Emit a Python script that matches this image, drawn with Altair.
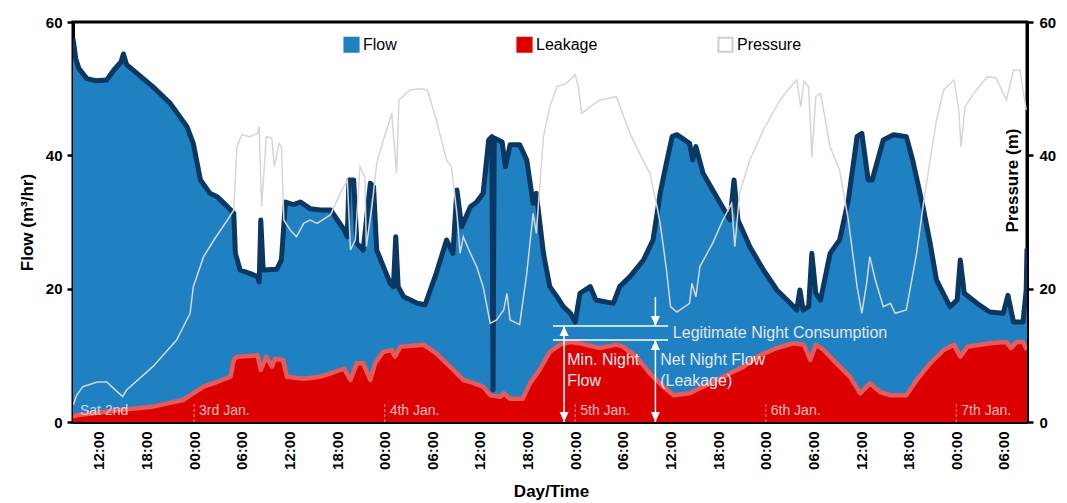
import altair as alt
import pandas as pd

# ---------------- data (hours since 2 Jan 00:00) ----------------
flow_h = [8.75, 9.1, 9.5, 10.5, 11.6, 13.0, 13.9, 14.8, 15.1, 15.5, 18.8, 21.0, 23.1, 23.9, 24.8, 26.0, 26.9,
          28.2, 29.0, 29.2, 29.8, 31.0, 32.0, 32.2, 32.4, 32.7, 34.4, 35.0, 35.5, 36.5, 37.4, 38.6, 39.9,
          41.2, 42.9, 43.3, 43.5, 44.1, 44.5, 45.3, 46.2, 46.6, 47.0, 48.7, 49.1, 49.4, 49.7, 50.4, 52.1,
          53.1, 54.5, 55.8, 56.6, 57.1, 57.7, 58.8, 59.6, 60.4, 61.1, 61.5, 61.65, 61.8, 62.8, 63.2, 63.8,
          65.0, 65.9, 66.7, 67.1, 68.0, 68.8, 69.7, 70.5, 71.4, 72.0, 72.6, 73.9, 74.6, 76.8, 77.6, 78.9,
          80.6, 81.8, 82.7, 83.3, 84.2, 84.8, 86.4, 86.8, 87.2, 88.1, 89.8, 91.5, 92.0, 92.5, 94.0, 95.7,
          97.4, 99.1, 99.9, 100.3, 100.7, 101.4, 101.8, 102.3, 102.9, 104.1, 105.3, 106.4, 107.5, 108.1,
          108.9, 109.4, 110.8, 112.1, 113.7, 114.5, 115.8, 116.7, 117.5, 119.2, 120.1, 120.5, 121.0, 122.6,
          124.2, 125.9, 126.5, 127.2, 128.4, 128.8, 128.9]
flow_v = [57.5, 54.5, 53.0, 51.5, 51.2, 51.3, 52.8, 54.0, 55.2, 53.6, 50.3, 47.8, 44.3, 41.8, 36.3, 34.3, 33.8,
          32.3, 31.3, 25.3, 22.8, 22.3, 21.8, 21.0, 30.3, 22.8, 22.9, 24.3, 33.0, 32.6, 33.0, 32.0, 31.8,
          31.8, 28.8, 27.8, 36.3, 36.3, 26.8, 25.8, 35.8, 35.3, 25.8, 20.8, 20.3, 27.8, 20.3, 18.8, 17.8,
          17.6, 22.3, 27.3, 25.3, 34.8, 29.3, 32.3, 33.0, 34.3, 42.3, 42.8, 4.8, 42.6, 42.0, 38.3, 41.6,
          41.6, 39.3, 32.8, 34.3, 25.3, 20.3, 18.8, 17.3, 16.3, 15.0, 19.3, 20.3, 18.3, 17.8, 20.3, 21.8,
          24.3, 27.3, 34.3, 37.8, 42.8, 43.1, 41.8, 39.3, 41.3, 37.3, 33.8, 30.3, 36.3, 30.3, 26.3, 22.8,
          19.8, 17.8, 16.8, 19.8, 16.8, 17.3, 25.3, 19.3, 18.3, 25.3, 27.3, 33.3, 42.8, 43.3,
          36.3, 36.3, 42.3, 43.1, 42.8, 39.3, 32.3, 26.8, 21.3, 17.3, 18.3, 24.3, 19.3, 17.8,
          16.5, 16.3, 19.0, 15.0, 15.0, 19.8, 26.0]

leak_h = [8.75, 9.2, 14.6, 18.8, 22.6, 23.9, 25.2, 26.9, 28.6, 29.0, 29.4, 32.0, 32.4, 33.1, 33.8, 34.2, 35.2,
          35.7, 37.8, 39.9, 41.2, 42.9, 43.7, 44.5, 45.3, 46.2, 46.8, 47.8, 48.9, 49.3, 50.0, 52.9, 54.5,
          55.8, 57.1, 57.9, 58.8, 60.4, 61.3, 62.6, 63.0, 63.8, 65.4, 66.3, 67.5, 68.8, 70.1, 71.4, 72.6,
          75.1, 77.2, 78.0, 79.7, 81.4, 83.1, 84.4, 86.4, 89.0, 91.5, 93.2, 94.9, 97.4, 99.5, 100.8, 101.6,
          102.3, 103.3, 104.9, 106.6, 107.9, 109.1, 110.4, 111.7, 113.7, 115.0, 116.7, 118.4, 119.7, 120.5,
          121.4, 124.2, 126.3, 126.9, 127.6, 128.4, 128.9]
leak_v = [0.8, 1.0, 1.8, 2.3, 3.3, 4.3, 5.3, 6.0, 6.8, 9.3, 9.8, 10.0, 7.8, 9.8, 8.3, 9.5, 9.3,
          6.8, 6.5, 6.8, 7.3, 8.0, 6.3, 8.8, 8.8, 6.3, 8.8, 10.5, 10.8, 9.8, 11.3, 11.6, 10.3,
          8.8, 7.3, 6.3, 6.0, 5.3, 4.0, 3.8, 4.3, 3.5, 3.5, 5.8, 7.8, 10.5, 11.6, 12.0, 11.8,
          11.1, 11.6, 11.3, 9.8, 7.3, 5.3, 4.0, 4.3, 5.8, 7.3, 8.3, 9.8, 11.1, 11.8, 11.6, 9.3,
          11.6, 10.8, 8.8, 6.8, 4.3, 5.8, 4.5, 4.0, 4.0, 6.3, 8.8, 10.8, 11.6, 9.8,
          11.3, 11.8, 12.0, 11.1, 12.0, 12.0, 10.8]

pres_h = [8.8, 9.2, 10.0, 11.8, 13.0, 13.9, 15.0, 15.5, 18.8, 21.8, 23.5, 23.9, 25.2, 26.5, 28.2, 29.0, 29.4,
          30.0, 31.0, 32.0, 32.2, 32.5, 33.1, 33.8, 34.1, 34.7, 35.0, 35.3, 36.1, 36.9, 37.8, 38.6, 39.5,
          41.2, 42.4, 43.3, 43.7, 44.3, 44.9, 45.5, 45.7, 46.4, 47.0, 47.6, 48.9, 49.5, 49.8, 51.2, 52.5,
          53.4, 54.5, 55.8, 56.4, 57.1, 57.5, 57.9, 58.8, 59.6, 60.4, 61.3, 62.1, 63.0, 63.4, 63.8, 65.0,
          65.9, 66.7, 67.1, 68.0, 68.8, 69.7, 70.9, 72.0, 72.4, 72.8, 73.9, 75.1, 77.2, 77.8, 78.9, 80.1,
          81.4, 82.3, 82.7, 83.1, 83.5, 84.0, 84.8, 86.4, 86.7, 87.2, 87.7, 89.3, 90.6, 91.7, 92.1, 92.7,
          94.0, 95.7, 97.8, 99.5, 99.9, 100.4, 100.8, 101.4, 101.8, 102.3, 102.9, 104.1, 105.3, 106.4,
          107.5, 108.1, 108.7, 109.1, 109.8, 110.8, 111.7, 112.3, 113.7, 115.0, 115.8, 116.7, 117.5, 118.4,
          119.7, 120.3, 120.6, 121.1, 122.2, 123.9, 125.0, 126.3, 127.2, 128.0, 128.8]
pres_v = [2.6, 4.0, 5.3, 6.0, 6.0, 5.0, 3.8, 4.8, 8.3, 12.3, 16.3, 20.3, 24.8, 27.3, 30.3, 31.8, 41.3,
          43.1, 42.8, 43.3, 44.3, 32.3, 42.8, 42.5, 38.3, 41.8, 41.3, 30.3, 28.8, 27.8, 29.8, 30.3, 29.8,
          31.1, 34.3, 36.3, 25.8, 27.3, 38.3, 36.8, 26.3, 32.3, 38.8, 41.3, 46.3, 37.3, 48.3, 49.8, 50.0,
          49.8, 45.3, 39.3, 38.3, 31.3, 25.3, 27.8, 25.3, 23.3, 20.3, 14.8, 15.3, 16.8, 19.3, 15.3, 14.6,
          22.3, 31.3, 28.3, 42.8, 47.3, 50.3, 50.8, 52.1, 50.3, 46.3, 47.3, 48.3, 48.8, 46.8, 43.3, 40.3,
          37.3, 32.3, 29.8, 26.3, 22.8, 17.3, 16.5, 17.8, 20.8, 18.8, 23.3, 26.8, 30.3, 32.8, 26.3, 34.3,
          39.3, 43.8, 48.3, 50.8, 51.3, 47.3, 51.1, 50.3, 39.8, 48.8, 49.3, 41.3, 37.8, 30.3,
          20.3, 16.3, 20.8, 24.8, 21.3, 17.3, 17.8, 16.3, 16.8, 25.3, 32.3, 39.3, 45.3, 49.8,
          51.3, 46.8, 41.3, 47.3, 49.3, 51.8, 51.6, 48.3, 52.8, 52.8, 46.8]

tick_hours = list(range(12, 127, 6))
y_ticks = [0, 20, 40, 60]
legend_names = ["Flow", "Leakage", "Pressure"]

day_text = ["Sat 2nd", "3rd Jan.", "4th Jan.", "5th Jan.", "6th Jan.", "7th Jan."]
day_text_h = [9.0, 24, 48, 72, 96, 120]
day_mark_h = [24, 48, 72, 96, 120]

# annotation (night flow analysis on the 5th)
legit_levels = [14.4, 12.3]
legit_x = [69.2, 83.7]
shaft_x = [70.6, 82.1, 82.1]
shaft_y0 = [0.0, 0.0, 18.75]
shaft_y1 = [14.4, 12.3, 14.4]
head_x = [70.6, 70.6, 82.1, 82.1, 82.1]
head_y = [14.4, 0.0, 12.3, 0.0, 14.4]
head_dir = ["up", "down", "up", "down", "down"]
ann_text = ["Legitimate Night Consumption", "Min. Night", "Flow", "Net Night Flow", "(Leakage)"]
ann_x = [84.3, 71.0, 71.0, 82.7, 82.7]
ann_y = [13.35, 9.3, 6.15, 9.3, 6.15]

# ---------------- styling ----------------
BLUE = "#1f80c2"
NAVY = "#0b3763"
RED = "#dc0000"
RED_EDGE = "#e45c5c"
GREY = "#d6d6d6"
FONT = "Liberation Sans"

flow_df = pd.DataFrame({"h": flow_h, "v": flow_v})
leak_df = pd.DataFrame({"h": leak_h, "v": leak_v})
pres_df = pd.DataFrame({"h": pres_h, "v": pres_v})
legend_df = pd.DataFrame({"s": legend_names})

xs = alt.Scale(domain=[8.75, 128.9], nice=False, zero=False)
ys = alt.Scale(domain=[0, 60], nice=False, zero=True)

x_axis = alt.Axis(
    orient="bottom", values=tick_hours,
    labelExpr="(datum.value % 24 < 10 ? '0' : '') + (datum.value % 24) + ':00'",
    labelAngle=270, labelAlign="right", labelBaseline="middle", labelPadding=9,
    ticks=False, title="Day/Time", titleX=478, titleY=69,
    titleAlign="center", titleBaseline="middle",
)
left_axis = alt.Axis(
    orient="left", values=y_ticks, title="Flow (m³/hr)", titleX=-46, titleY=200, titleAngle=270,
    titleAlign="center", titleBaseline="middle", labelPadding=5,
)
right_axis = alt.Axis(
    orient="right", values=y_ticks, title="Pressure (m)", titleX=-15, titleY=158,
    titleAngle=270, titleAlign="center", titleBaseline="middle", labelPadding=6,
)


def xenc(field):
    # every layer carries the same explicit bottom axis so the shared axis survives merging
    return alt.X(field, type="quantitative", scale=xs, axis=x_axis)


YL = alt.Y("v:Q", scale=ys, axis=left_axis)
YN = alt.Y("v:Q", scale=ys, axis=None)

flow_area = alt.Chart(flow_df).mark_area(color=BLUE, clip=True).encode(x=xenc("h"), y=YL)
leak_area = alt.Chart(leak_df).mark_area(color=RED, clip=True).encode(x=xenc("h"), y=YN)
leak_line = alt.Chart(leak_df).mark_line(color=RED_EDGE, strokeWidth=4.5, strokeJoin="round", clip=True).encode(x=xenc("h"), y=YN)
flow_line = alt.Chart(flow_df).mark_line(color=NAVY, strokeWidth=5, strokeJoin="round", clip=True).encode(x=xenc("h"), y=YN)

pres_line = alt.Chart(pres_df).mark_line(color=GREY, strokeWidth=1.5, clip=True).encode(
    x=xenc("h"), y=alt.Y("v:Q", scale=ys, axis=right_axis)
)

legend = alt.Legend(
    title=None, orient="none", legendX=270, legendY=14, direction="horizontal",
    symbolType="square", symbolSize=200, symbolStrokeWidth=2, symbolOpacity=1, labelFontSize=16,
    labelFont=FONT, labelColor="black", columnPadding=116, labelOffset=3,
)
legend_layer = alt.Chart(legend_df).mark_square(size=1, filled=True, opacity=1, clip=True).encode(
    x=alt.value(-50), y=alt.value(-50),
    fill=alt.Fill("s:N", scale=alt.Scale(domain=legend_names, range=[BLUE, RED, "#ffffff"]), legend=legend),
    stroke=alt.Stroke("s:N", scale=alt.Scale(domain=legend_names, range=[BLUE, RED, "#cfcfcf"]), legend=legend),
)

# annotation layers
hl_df = pd.DataFrame({"x0": [legit_x[0]] * 2, "x1": [legit_x[1]] * 2, "y": legit_levels})
hlines = alt.Chart(hl_df).mark_rule(color="white", strokeWidth=1.5).encode(
    x=xenc("x0"), x2="x1:Q", y=alt.Y("y:Q", scale=ys, axis=None)
)
sh_df = pd.DataFrame({"x": shaft_x, "y0": shaft_y0, "y1": shaft_y1})
shafts = alt.Chart(sh_df).mark_rule(color="white", strokeWidth=1.5).encode(
    x=xenc("x"), y=alt.Y("y0:Q", scale=ys, axis=None), y2="y1:Q"
)
hd_df = pd.DataFrame({"x": head_x, "y": head_y, "d": head_dir})
heads = alt.Chart(hd_df).mark_point(filled=True, color="white", opacity=1, size=100).encode(
    x=xenc("x"), y=alt.Y("y:Q", scale=ys, axis=None),
    shape=alt.Shape("d:N", scale=alt.Scale(domain=["up", "down"],
                    range=["M0,0L0.9,2L-0.9,2Z", "M0,0L0.9,-2L-0.9,-2Z"]), legend=None),
)
tx_df = pd.DataFrame({"x": ann_x, "y": ann_y, "t": ann_text})
texts = alt.Chart(tx_df).mark_text(align="left", baseline="middle", fontSize=16, font=FONT,
                                   color="#e2e7ee").encode(
    x=xenc("x"), y=alt.Y("y:Q", scale=ys, axis=None), text="t:N"
)
dm_df = pd.DataFrame({"h": day_mark_h, "y0": [0.0] * len(day_mark_h), "y1": [3.0] * len(day_mark_h)})
day_marks = alt.Chart(dm_df).mark_rule(color="white", opacity=0.55, strokeWidth=1, strokeDash=[3, 2]).encode(
    x=xenc("h"), y=alt.Y("y0:Q", scale=ys, axis=None), y2="y1:Q"
)
dt_df = pd.DataFrame({"h": day_text_h, "t": day_text, "y": [1.0] * len(day_text)})
day_texts = alt.Chart(dt_df).mark_text(align="left", baseline="alphabetic", dx=5, fontSize=14,
                                       font="Liberation Sans Narrow, Liberation Sans",
                                       color="white", opacity=0.72).encode(
    x=xenc("h"), y=alt.Y("y:Q", scale=ys, axis=None), text="t:N"
)

chart = (
    alt.layer(flow_area, leak_area, leak_line, flow_line, pres_line,
              hlines, shafts, heads, texts, day_marks, day_texts, legend_layer)
    .resolve_scale(y="independent")
    .properties(width=954, height=400, autosize=alt.AutoSizeParams(type="none"),
                padding={"left": 65, "top": 14, "right": 30, "bottom": 80})
    .configure_view(stroke="black", strokeWidth=3)
    .configure_axis(domainColor="black", domainWidth=3, tickColor="black", tickWidth=2.5, tickSize=6,
                    labelFont=FONT, labelFontWeight="bold", labelFontSize=15, labelColor="black",
                    titleFont=FONT, titleFontWeight="bold", titleFontSize=17, titleColor="black", grid=False)
)

chart.save("out.html", embed_options={"renderer": "svg", "actions": False})
